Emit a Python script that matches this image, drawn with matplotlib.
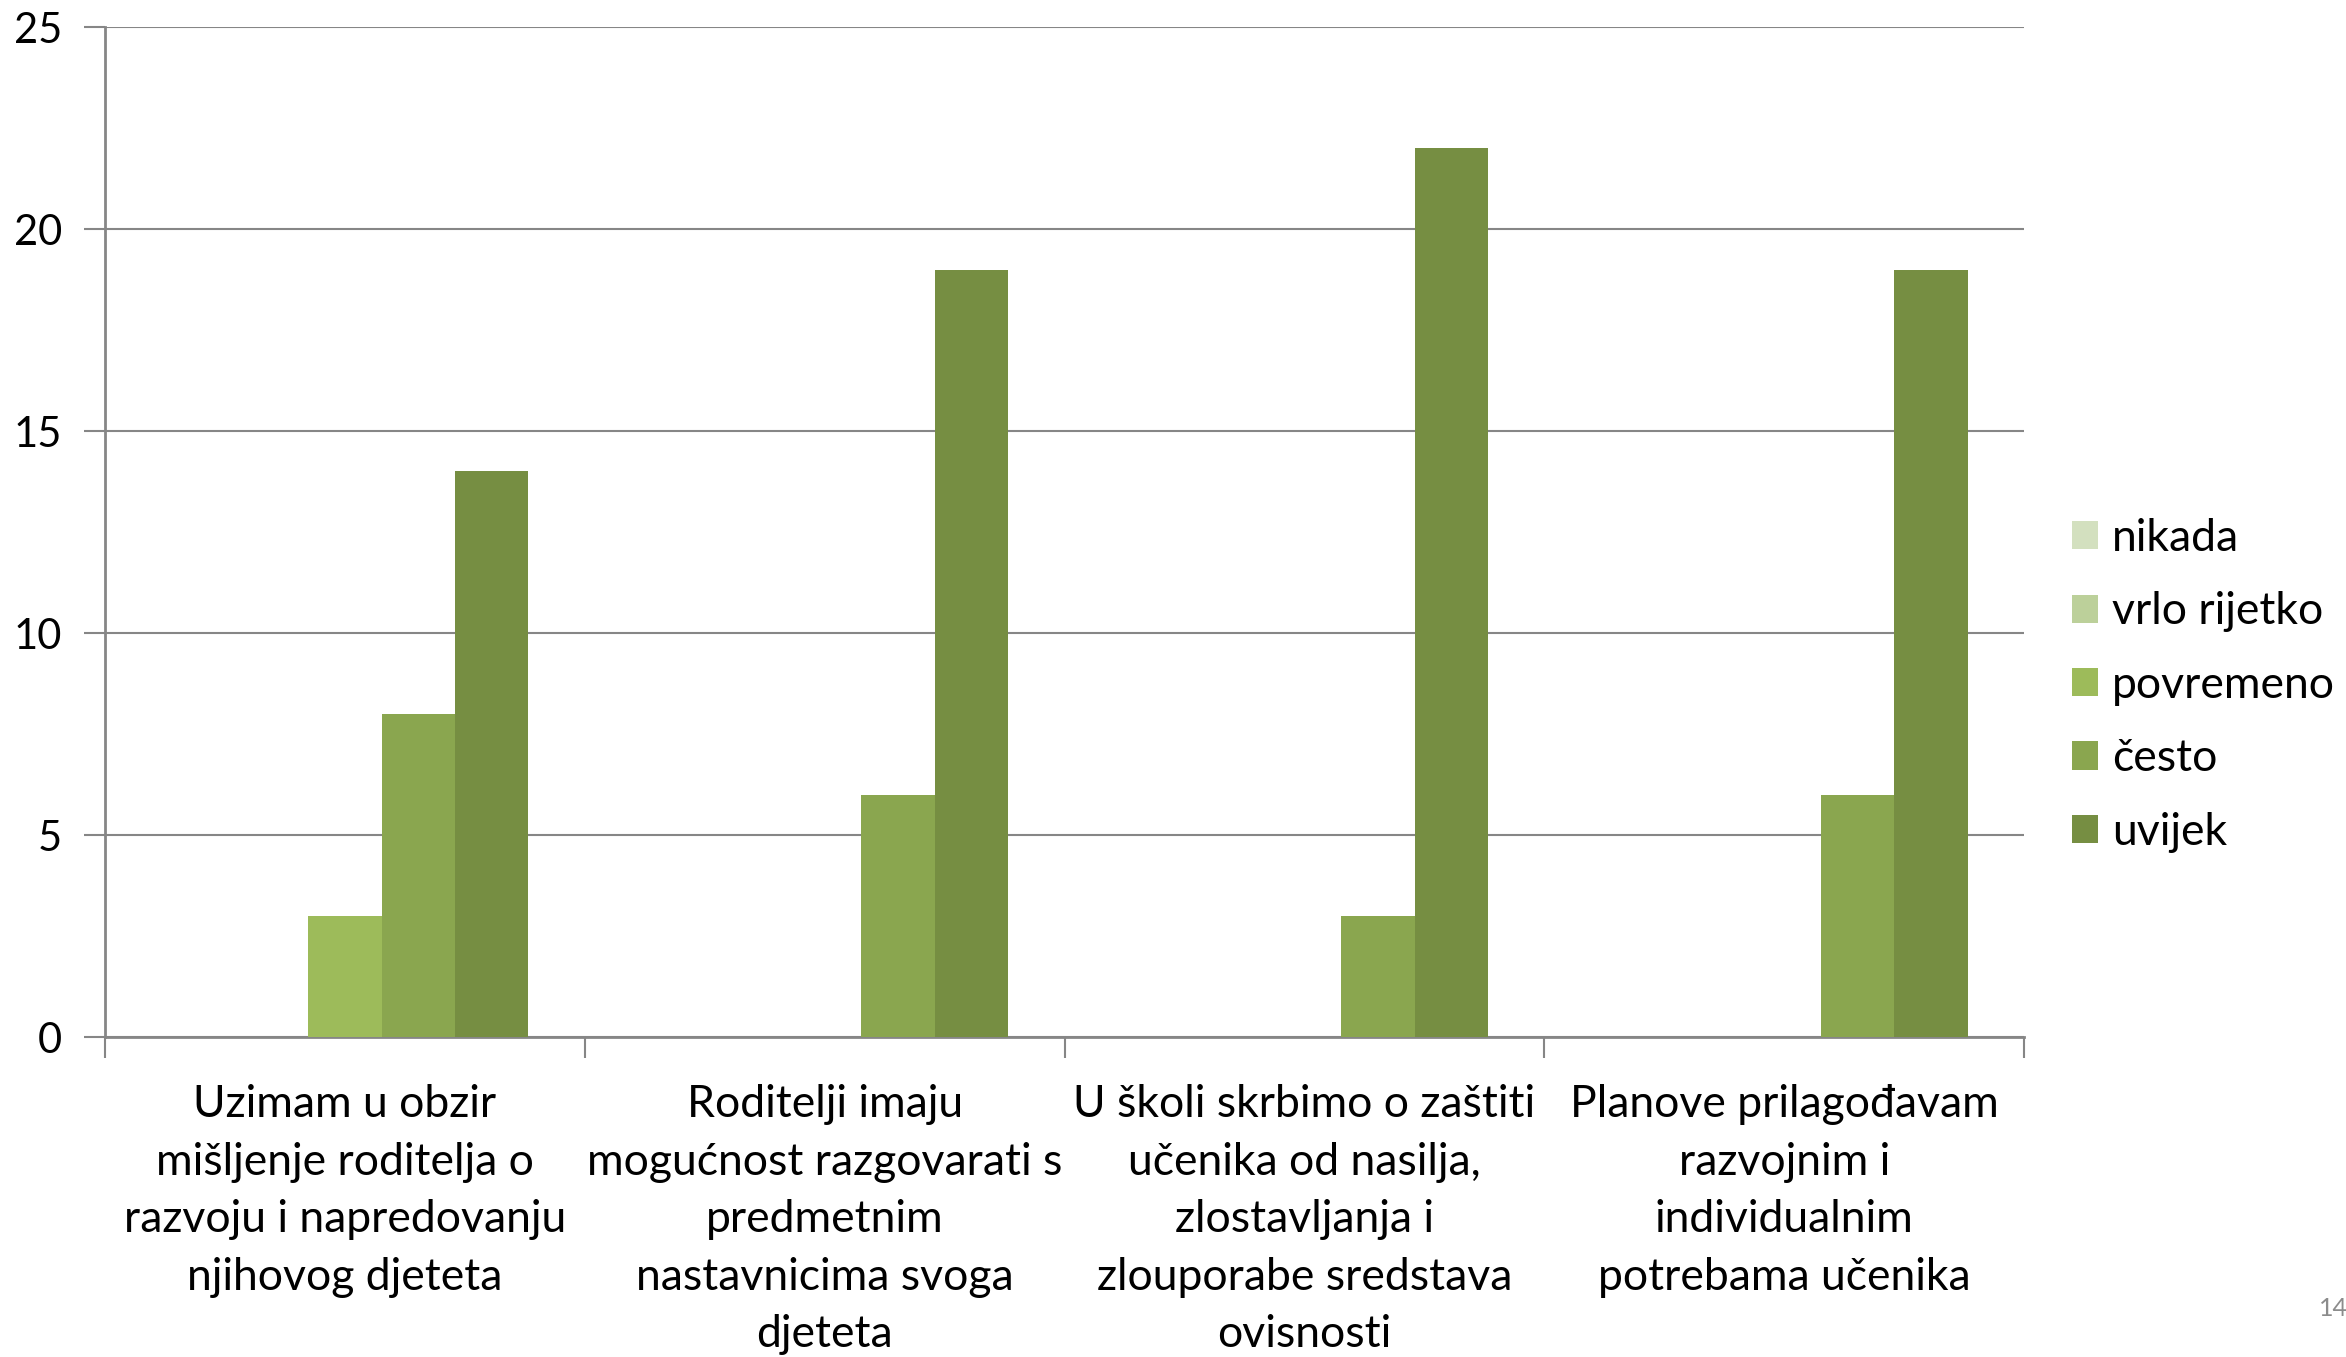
import matplotlib.pyplot as plt
import numpy as np

plt.rcParams['font.family'] = ['Lato', 'DejaVu Sans']

# data
categories = ['Uzimam u obzir\nmišljenje roditelja o\nrazvoju i napredovanju\nnjihovog djeteta',
              'Roditelji imaju\nmogućnost razgovarati s\npredmetnim\nnastavnicima svoga\ndjeteta',
              'U školi skrbimo o zaštiti\nučenika od nasilja,\nzlostavljanja i\nzlouporabe sredstava\novisnosti',
              'Planove prilagođavam\nrazvojnim i\nindividualnim\npotrebama učenika']
series_names = ['nikada', 'vrlo rijetko', 'povremeno', 'često', 'uvijek']
nikada = [0, 0, 0, 0]
vrlo_rijetko = [0, 0, 0, 0]
povremeno = [3, 0, 0, 0]
cesto = [8, 6, 3, 6]
uvijek = [14, 19, 22, 19]
colors = ['#D3E0BF', '#BCD09A', '#9DBB5A', '#8AA64F', '#768E42']

values = [nikada, vrlo_rijetko, povremeno, cesto, uvijek]

fig = plt.figure(figsize=(23.46, 13.57), dpi=100)
ax = fig.add_axes([0.0448, 0.2358, 0.818, 0.7442])

x = np.arange(len(categories))
w = 0.153
for i, (name, vals) in enumerate(zip(series_names, values)):
    ax.bar(x + (i - 2) * w, vals, width=w, color=colors[i], label=name, zorder=3)

grid_c = '#868686'
ax.set_xlim(-0.5, len(categories) - 0.5)
ax.set_ylim(0, 25)
ax.set_yticks(range(0, 26, 5))
ax.yaxis.grid(True, color=grid_c, linewidth=1.5, zorder=0)
ax.set_xticks(np.arange(-0.5, len(categories), 1))
ax.set_xticklabels([])
ax.set_xticks(x, minor=True)
ax.set_xticklabels(categories, minor=True, fontsize=32, linespacing=1.5, va='top')
ax.tick_params(axis='x', which='minor', length=0, pad=34)
ax.tick_params(axis='x', which='major', length=15, width=1.5, color=grid_c)
ax.tick_params(axis='y', length=15, width=1.5, color=grid_c, labelsize=30, pad=16)
for s in ['top', 'right']:
    ax.spines[s].set_visible(False)
for s in ['left', 'bottom']:
    ax.spines[s].set_color(grid_c)
    ax.spines[s].set_linewidth(2)

ax.legend(loc='center left', bbox_to_anchor=(0.866, 0.495), bbox_transform=fig.transFigure,
          frameon=False, fontsize=32, handlelength=0.6, handleheight=0.6,
          handletextpad=0.3, labelspacing=0.73)

fig.text(0.9885, 0.030, '14', fontsize=18, color='#8C8C8C')

fig.savefig('out.png', dpi=100)
